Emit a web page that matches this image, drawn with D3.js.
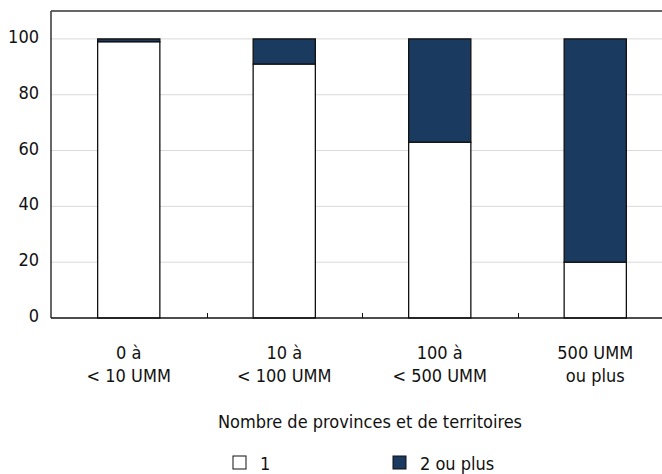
<!DOCTYPE html>
<html>
<head>
<meta charset="utf-8">
<script src="https://cdn.jsdelivr.net/npm/d3@7"></script>
<style>
  body { margin: 0; background: #fff; }
  svg text { font-family: "DejaVu Sans Condensed", "Liberation Sans Narrow", sans-serif; font-stretch: condensed; fill: #111; }
</style>
</head>
<body>
<div id="chart"></div>
<script>
// categories (two-line labels) and shares in percent
var categories = ["0 à|< 10 UMM", "10 à|< 100 UMM", "100 à|< 500 UMM", "500 UMM|ou plus"];
var oneProv = [99, 91, 63, 20];
var twoPlus = [1, 9, 37, 80];
var yTicks = [0, 20, 40, 60, 80, 100];
var seriesNames = ["1", "2 ou plus"];
var colors = ["#ffffff", "#1b3a5f"];

var W = 662, H = 474;
var margin = {top: 11, left: 51, bottom: 318};

var svg = d3.select("#chart").append("svg")
  .attr("width", W).attr("height", H);

var x = d3.scaleBand()
  .domain(categories)
  .range([margin.left, margin.left + 622])
  .paddingInner(0.6).paddingOuter(0.3);

var y = d3.scaleLinear().domain([0, 110]).range([margin.bottom, margin.top]);

// gridlines
svg.append("g").selectAll("line").data(yTicks.filter(function(d){ return d > 0; }))
  .enter().append("line")
  .attr("x1", margin.left).attr("x2", W)
  .attr("y1", function(d){ return y(d); }).attr("y2", function(d){ return y(d); })
  .attr("stroke", "#d9d9d9").attr("stroke-width", 1);

// y labels
var yAxis = d3.axisLeft(y).tickValues(yTicks).tickSize(0).tickPadding(12);
var yg = svg.append("g").attr("transform", "translate(" + margin.left + ",0)").call(yAxis);
yg.select(".domain").remove();
yg.selectAll("text").style("font-size", "18px").attr("dy", "0.2em");

// stacked data
var rows = categories.map(function(c, i){ return {cat: c, a: oneProv[i], b: twoPlus[i]}; });
var stack = d3.stack().keys(["a", "b"])(rows);

svg.append("g").selectAll("g").data(stack).enter().append("g")
  .attr("fill", function(d, i){ return colors[i]; })
  .selectAll("rect").data(function(d){ return d; }).enter().append("rect")
  .attr("x", function(d){ return x(d.data.cat); })
  .attr("width", x.bandwidth())
  .attr("y", function(d){ return y(d[1]); })
  .attr("height", function(d){ return y(d[0]) - y(d[1]); })
  .attr("stroke", "#111").attr("stroke-width", 1.3);

// frame: top and left
svg.append("line").attr("x1", margin.left).attr("x2", W).attr("y1", margin.top).attr("y2", margin.top)
  .attr("stroke", "#333").attr("stroke-width", 1.5);
svg.append("line").attr("x1", margin.left).attr("x2", margin.left).attr("y1", margin.top).attr("y2", margin.bottom)
  .attr("stroke", "#333").attr("stroke-width", 1.5);

// x axis line + ticks at band boundaries
svg.append("line").attr("x1", margin.left).attr("x2", W).attr("y1", margin.bottom).attr("y2", margin.bottom)
  .attr("stroke", "#111").attr("stroke-width", 1.5);
var gap = x.step() * x.paddingInner() / 2;
svg.append("g").selectAll("line").data(categories.slice(1)).enter().append("line")
  .attr("x1", function(d){ return Math.round(x(d) - gap) + 0.5; })
  .attr("x2", function(d){ return Math.round(x(d) - gap) + 0.5; })
  .attr("y1", margin.bottom).attr("y2", margin.bottom - 5)
  .attr("stroke", "#111").attr("stroke-width", 1);

// x labels
var xl = svg.append("g").selectAll("text").data(categories).enter().append("text")
  .attr("x", function(d){ return x(d) + x.bandwidth() / 2; })
  .attr("y", 359)
  .attr("text-anchor", "middle")
  .style("font-size", "18px");
xl.selectAll("tspan").data(function(d){ return d.split("|"); }).enter().append("tspan")
  .attr("x", function(){ var c = d3.select(this.parentNode).datum(); return x(c) + x.bandwidth() / 2; })
  .attr("dy", function(d, i){ return i ? 23 : 0; })
  .text(function(d){ return d; });

// axis title
svg.append("text").attr("x", 370).attr("y", 428).attr("text-anchor", "middle")
  .style("font-size", "18px").text("Nombre de provinces et de territoires");

// legend
var legX = [233, 393];
var leg = svg.append("g").selectAll("g").data(seriesNames).enter().append("g")
  .attr("transform", function(d, i){ return "translate(" + legX[i] + ",456)"; });
leg.append("rect").attr("width", 13).attr("height", 13)
  .attr("fill", function(d, i){ return colors[i]; })
  .attr("stroke", "#111").attr("stroke-width", 1);
leg.append("text").attr("x", 27).attr("y", 14).style("font-size", "18px")
  .text(function(d){ return d; });
</script>
</body>
</html>
